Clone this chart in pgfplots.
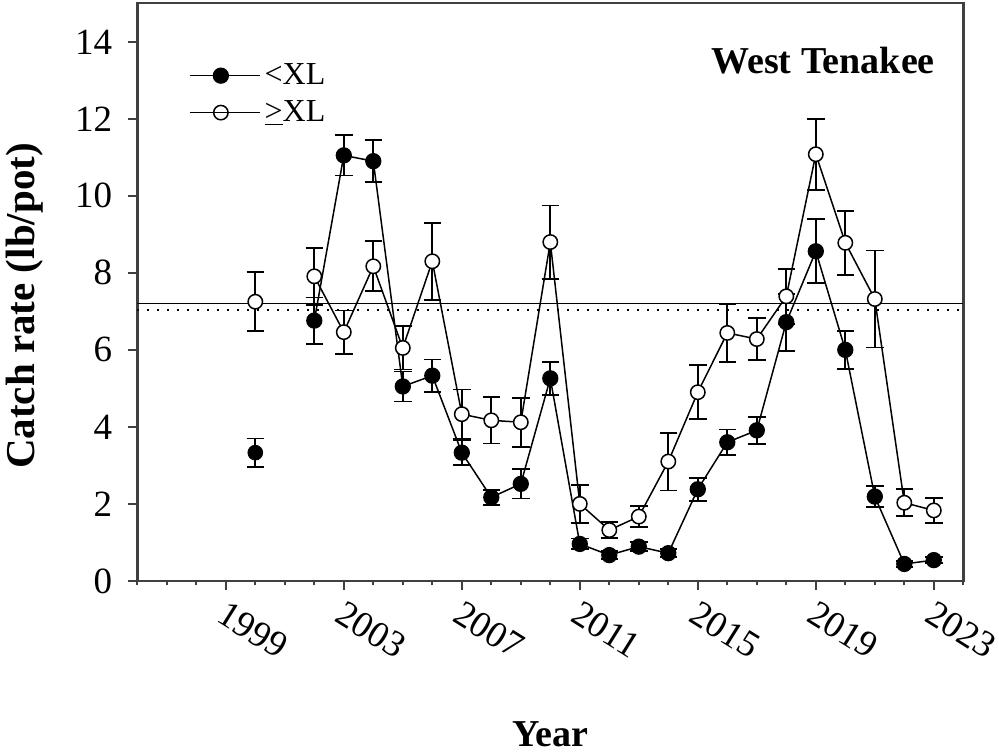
\documentclass[border=0pt]{standalone}
\usepackage{fontspec}
\setmainfont{Liberation Serif}
\usepackage{pgfplots}
\pgfplotsset{compat=1.18}
\begin{document}
\begin{tikzpicture}
\begin{axis}[
  scale only axis, width=413pt, height=288.8pt,
  xmin=1996, xmax=2024, ymin=0, ymax=15,
  xtick={1999,2003,...,2023}, minor xtick={1996,...,2024},
  ytick={0,2,...,14},
  tick align=outside, major tick length=4.5pt, minor tick length=2.2pt,
  xtick pos=bottom, ytick pos=left,
  axis line style={line width=1.2pt, black!75},
  every tick/.style={black!75, line width=1pt},
  /pgf/number format/1000 sep={},
  /pgf/number format/assume math mode=true,
  tick label style={font=\fontsize{18.5}{20}\selectfont},
  xticklabel style={rotate=-32, anchor=north west},
  yticklabel style={xshift=-4.5pt},
  xlabel={Year}, ylabel={Catch rate (lb/pot)},
  xlabel style={at={(axis description cs:0.5,-0.266)}, anchor=center, font=\bfseries\fontsize{19}{21}\selectfont},
  ylabel style={at={(axis description cs:-0.136,0.476)}, anchor=center, font=\bfseries\fontsize{20.5}{22}\selectfont},
  legend style={at={(rel axis cs:0.055,0.91)}, anchor=north west, draw=none, fill=none,
    font=\fontsize{16}{18}\selectfont, row sep=2.5pt},
  legend cell align=left,
  legend image code/.code={\draw[mark repeat=2,mark phase=2,#1] plot coordinates {(0pt,0pt) (15.5pt,0pt) (31pt,0pt)}; \path (0pt,0pt) -- (35pt,0pt);},
  error bars/error bar style={line width=0.9pt, black},
  error bars/error mark options={rotate=90, mark size=4.4pt, line width=0.9pt, black},
]
\addplot[black, line width=0.75pt, forget plot] coordinates {(1996,7.2) (2024,7.2)};
\addplot[black, line width=0.75pt, dash pattern=on 0.8pt off 4.2pt, forget plot] coordinates {(1996,7.04) (2024,7.04)};

% <XL (filled)
\addplot[black, line width=0.75pt, mark=*, mark size=3.7pt, mark options={solid, fill=black},
  error bars/.cd, y dir=both, y explicit] coordinates {
  (2002,6.76) +- (0,0.60)
  (2003,11.05) +- (0,0.52)
  (2004,10.90) +- (0,0.54)
  (2005,5.05) +- (0,0.39)
  (2006,5.33) +- (0,0.42)
  (2007,3.33) +- (0,0.33)
  (2008,2.17) +- (0,0.20)
  (2009,2.52) +- (0,0.38)
  (2010,5.26) +- (0,0.43)
  (2011,0.96) +- (0,0.14)
  (2012,0.67) +- (0,0.10)
  (2013,0.89) +- (0,0.12)
  (2014,0.72) +- (0,0.10)
  (2015,2.38) +- (0,0.30)
  (2016,3.60) +- (0,0.33)
  (2017,3.91) +- (0,0.35)
  (2018,6.72) +- (0,0.74)
  (2019,8.56) +- (0,0.83)
  (2020,6.00) +- (0,0.49)
  (2021,2.19) +- (0,0.27)
  (2022,0.44) +- (0,0.07)
  (2023,0.54) +- (0,0.08)
};
\addlegendentry{<XL}
\addplot[black, only marks, mark=*, mark size=3.7pt, mark options={solid, fill=black}, forget plot,
  error bars/.cd, y dir=both, y explicit] coordinates {
  (2000,3.33) +- (0,0.37)
};

% >=XL (open)
\addplot[black, line width=0.75pt, mark=*, mark size=3.6pt, mark options={solid, fill=white, line width=0.75pt},
  error bars/.cd, y dir=both, y explicit] coordinates {
  (2002,7.91) +- (0,0.74)
  (2003,6.46) +- (0,0.56)
  (2004,8.17) +- (0,0.65)
  (2005,6.05) +- (0,0.56)
  (2006,8.30) +- (0,1.00)
  (2007,4.33) +- (0,0.64)
  (2008,4.17) +- (0,0.60)
  (2009,4.12) +- (0,0.64)
  (2010,8.80) +- (0,0.95)
  (2011,2.00) +- (0,0.49)
  (2012,1.32) +- (0,0.20)
  (2013,1.67) +- (0,0.27)
  (2014,3.10) +- (0,0.75)
  (2015,4.90) +- (0,0.70)
  (2016,6.44) +- (0,0.76)
  (2017,6.28) +- (0,0.55)
  (2018,7.39) +- (0,0.71)
  (2019,11.08) +- (0,0.92)
  (2020,8.78) +- (0,0.83)
  (2021,7.32) +- (0,1.26)
  (2022,2.03) +- (0,0.35)
  (2023,1.83) +- (0,0.33)
};
\addlegendentry{\underline{>}XL}
\addplot[black, only marks, mark=*, mark size=3.6pt, mark options={solid, fill=white, line width=0.75pt}, forget plot,
  error bars/.cd, y dir=both, y explicit] coordinates {
  (2000,7.25) +- (0,0.77)
};

\node[anchor=base east, font=\bfseries\fontsize{19}{21}\selectfont] at (rel axis cs:0.974,0.8793) {West Tenakee};
\end{axis}
\pgfresetboundingbox
\path[use as bounding box] (current axis.south west) ++(-68.65pt,-86.05pt) rectangle ++(499.5pt,376.5pt);
\end{tikzpicture}
\end{document}
